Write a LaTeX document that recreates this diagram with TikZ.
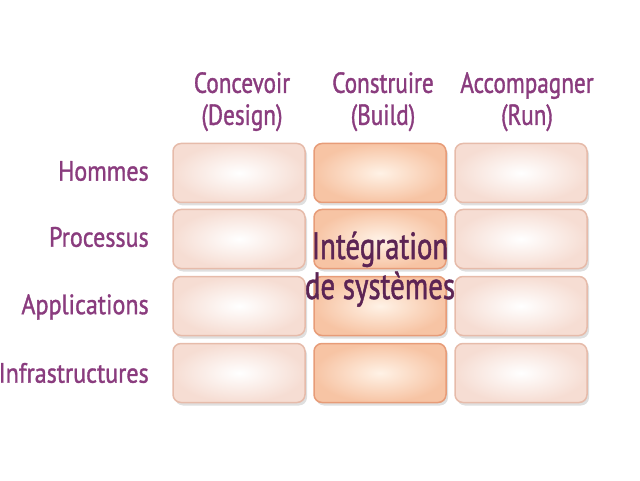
\documentclass[tikz,border=0pt]{standalone}
\usepackage{fontspec}
\newfontfamily\gridfont[FakeStretch=0.8, FakeBold=1.2]{PT Sans}
\newfontfamily\labelfont[FakeStretch=0.86, FakeBold=1.2]{PT Sans}
\newfontfamily\middlefont[FakeStretch=0.76, FakeBold=1.2]{PT Sans}
\usetikzlibrary{positioning, shadows}

\definecolor{plum}{HTML}{8A3C7E}
\definecolor{darkplum}{HTML}{5C2454}
\definecolor{paleedge}{HTML}{E6BBAA}
\definecolor{palefill}{HTML}{F6DDD3}
\definecolor{peachedge}{HTML}{E79C78}
\definecolor{peachfill}{HTML}{F7C4A4}
\definecolor{peachlight}{HTML}{FFF2E6}

\tikzset{
    cell/.style={rounded corners=8pt, minimum width=132pt, minimum height=59pt,
        draw=paleedge, line width=1.5pt, inner color=white, outer color=palefill,
        drop shadow={shadow xshift=2pt, shadow yshift=-3pt, opacity=0.25}},
    buildcell/.style={cell, draw=peachedge, inner color=peachlight, outer color=peachfill},
    head/.style={font=\gridfont\fontsize{29}{32}\selectfont, text=plum, align=center},
    rowlabel/.style={font=\labelfont\fontsize{28}{32}\selectfont, text=plum},
    middle/.style={font=\middlefont\fontsize{38}{40}\selectfont, text=darkplum, align=center}
}

\begin{document}
\begin{tikzpicture}[x=1pt, y=1pt]
    \useasboundingbox (0,0) rectangle (640,480);

    % Define cells
    \foreach \row/\y in {1/307,2/241,3/174,4/107} {
        \node[cell] (design\row) at (239,\y) {};
        \node[buildcell] (build\row) at (380,\y) {};
        \node[cell] (run\row) at (521,\y) {};
    }

    % Column headers
    \node[head, above=8pt of design1, xshift=3pt] (hdesign) {Concevoir\\(Design)};
    \node[head, above=8pt of build1, xshift=3pt] (hbuild) {Construire\\(Build)};
    \node[head, above=8pt of run1, xshift=6pt] (hrun) {Accompagner\\(Run)};

    % Row labels
    \node[rowlabel, left=20pt of design1, yshift=2pt] (lhommes) {Hommes};
    \node[rowlabel, left=20pt of design2, yshift=2pt] (lprocessus) {Processus};
    \node[rowlabel, left=20pt of design3, yshift=-1pt] (lapplications) {Applications};
    \node[rowlabel, left=20pt of design4] (linfra) {Infrastructures};

    % Middle text
    \node[middle] (integ) at (build2.south) {Intégration\\de systèmes};
\end{tikzpicture}
\end{document}
